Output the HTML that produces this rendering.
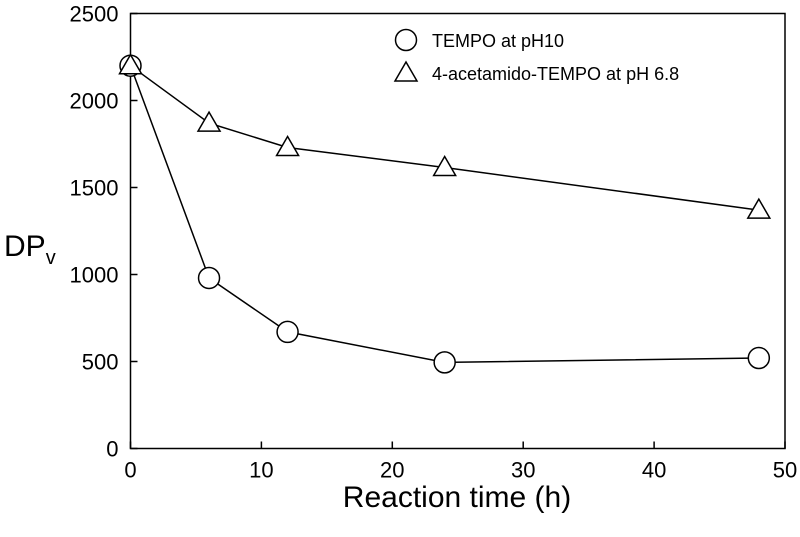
<!DOCTYPE html>
<html><head><meta charset="utf-8"><style>
body{margin:0;background:#fff}
svg{display:block;font-family:"Liberation Sans",sans-serif}
</style></head><body>
<svg id="chart" width="800" height="537"></svg>
<script>
const xTicks=[0,10,20,30,40,50];
const yTicks=[0,500,1000,1500,2000,2500];
const times=[0,6,12,24,48];
const tempoValues=[2200,980,670,495,520];
const acetValues=[2200,1870,1730,1615,1370];
const NS="http://www.w3.org/2000/svg";
const svg=document.getElementById('chart');
const X0=130.5,X1=785,Y0=448.5,Y1=13.5;
function sx(v){return X0+(v-0)/50*(X1-X0);}
function sy(v){return Y0-(v/2500)*(Y0-Y1);}
function mk(tag,attrs,parent){const e=document.createElementNS(NS,tag);for(const k in attrs)e.setAttribute(k,attrs[k]);(parent||svg).appendChild(e);return e;}
const frame=mk('rect',{x:X0,y:Y1,width:X1-X0,height:Y0-Y1,fill:'none',stroke:'#000','stroke-width':1.5});


xTicks.forEach(t=>{
  const l=mk('line',{x1:sx(t),x2:sx(t),y1:Y0,y2:Y0-7,stroke:'#000','stroke-width':1.5});
  
  
  const tx=mk('text',{x:sx(t),y:Y0+29,'text-anchor':'middle','font-size':22});
  tx.textContent=t;
  
  
});
yTicks.forEach(t=>{
  const l=mk('line',{x1:X0,x2:X0+7,y1:sy(t),y2:sy(t),stroke:'#000','stroke-width':1.5});
  
  
  const tx=mk('text',{x:X0-12,y:sy(t)+8,'text-anchor':'end','font-size':22});
  tx.textContent=t;
  
  
});
function series(vals,name){
  const pts=times.map((t,i)=>sx(t)+','+sy(vals[i])).join(' ');
  const pl=mk('polyline',{points:pts,fill:'none',stroke:'#000','stroke-width':1.5});
  
  
}
function circle(x,y,name){
  const c=mk('circle',{cx:x,cy:y,r:10.5,fill:'#fff',stroke:'#000','stroke-width':1.5});
  
  
}
function tri(x,y,name){
  const p=mk('polygon',{points:`${x},${y-11} ${x-11},${y+8} ${x+11},${y+8}`,fill:'#fff',stroke:'#000','stroke-width':1.5});
  
  
}
series(tempoValues,'tempo');
series(acetValues,'acetamido');
times.forEach((t,i)=>circle(sx(t),sy(tempoValues[i]),'tempo-point'));
times.forEach((t,i)=>tri(sx(t),sy(acetValues[i]),'acetamido-point'));
circle(406,40,'legend-circle-marker');
tri(406,73,'legend-triangle-marker');
const lt1=mk('text',{x:432,y:47,'font-size':18});lt1.textContent='TEMPO at pH10';


const lt2=mk('text',{x:432,y:80,'font-size':18});lt2.textContent='4-acetamido-TEMPO at pH 6.8';


const xt=mk('text',{x:457,y:507,'text-anchor':'middle','font-size':30});xt.textContent='Reaction time (h)';


const yt=mk('text',{x:4,y:256,'font-size':30});


yt.innerHTML='DP<tspan font-size="20" dy="8">v</tspan>';
</script>
</body></html>
